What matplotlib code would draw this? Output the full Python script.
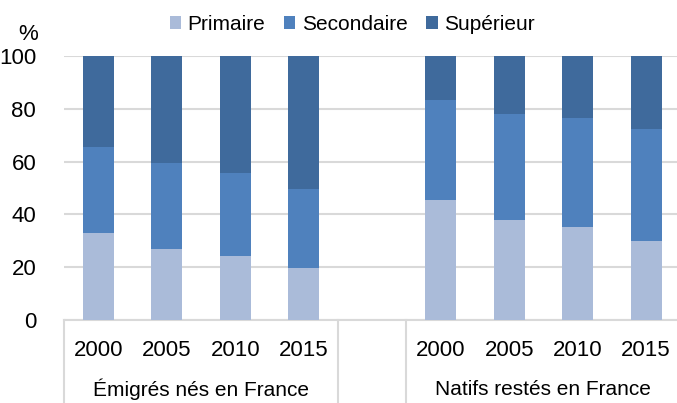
import matplotlib
matplotlib.use("Agg")
import matplotlib.pyplot as plt
import numpy as np

plt.rcParams['font.family'] = ['Liberation Sans Narrow', 'Liberation Sans', 'DejaVu Sans']

years = ["2000", "2005", "2010", "2015"]
groups = ["Émigrés nés en France", "Natifs restés en France"]
series = ["Primaire", "Secondaire", "Supérieur"]
colors = ["#AABBD9", "#4F81BD", "#3F6A9C"]

# parts in %, per group then per year
primaire = [33.0, 26.8, 24.3, 19.7, 45.6, 37.8, 35.4, 30.1]
secondaire = [32.6, 32.6, 31.3, 29.9, 37.7, 40.2, 41.2, 42.2]
superieur = [34.4, 40.6, 44.4, 50.4, 16.7, 22.0, 23.4, 27.7]

pos = np.array([0, 1, 2, 3, 5, 6, 7, 8])

fig = plt.figure(figsize=(6.77, 4.03), dpi=100)
ax = fig.add_axes([0.0945, 0.206, 0.9055, 0.655])

bottom = np.zeros(len(pos))
for name, vals, c in zip(series, [primaire, secondaire, superieur], colors):
    ax.bar(pos, vals, 0.45, bottom=bottom, color=c, label=name, zorder=3)
    bottom += np.array(vals)

ax.set_xlim(-0.5, 8.45)
ax.set_ylim(0, 100)
ax.set_yticks(range(0, 101, 20))
ax.yaxis.grid(True, color="#D9D9D9", linewidth=1.5, zorder=0)
ax.tick_params(axis="y", length=0, pad=20, labelsize=16)
ax.set_xticks([])
for s in ["top", "right", "left"]:
    ax.spines[s].set_visible(False)
ax.spines["bottom"].set_color("#D9D9D9")
ax.spines["bottom"].set_linewidth(1.5)

# separators of the category axis
for x in [-0.5, 3.5, 4.5]:
    ax.plot([x, x], [0, -35], color="#D9D9D9", linewidth=1.5, clip_on=False)

for p, y in zip(pos, years * 2):
    ax.text(p, -11.6, y, ha="center", va="center", fontsize=16)
ax.text(1.5, -26.2, groups[0], ha="center", va="center", fontsize=15)
ax.text(6.5, -26.2, groups[1], ha="center", va="center", fontsize=15)

fig.text(0.042, 0.915, "%", ha="center", va="center", fontsize=16)

fig.legend(loc="center", bbox_to_anchor=(0.52, 0.94), ncol=3, frameon=False,
           fontsize=15, handlelength=0.55, handleheight=0.55, handletextpad=0.3,
           columnspacing=0.9)

fig.savefig("out.png", dpi=100)
